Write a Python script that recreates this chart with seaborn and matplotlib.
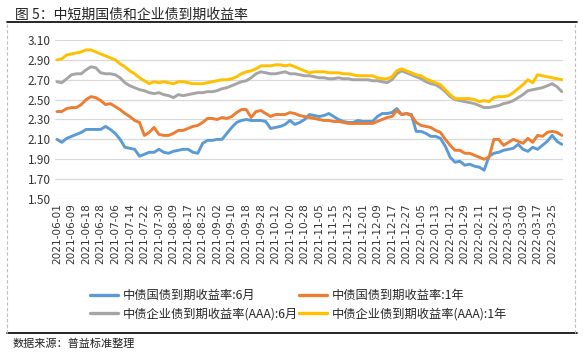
"""Recreate: 中短期国债和企业债到期收益率 line chart."""

import matplotlib

matplotlib.use("Agg")
import matplotlib.pyplot as plt
import numpy as np
import pandas as pd
import seaborn as sns
from matplotlib.lines import Line2D

# Chinese interbank trading calendar, 2021-06-01 .. 2022-03-31
START, END = "2021-06-01", "2022-03-31"
HOLIDAYS = [
    "2021-06-14", "2021-09-20", "2021-09-21",
    "2021-10-01", "2021-10-04", "2021-10-05", "2021-10-06", "2021-10-07",
    "2022-01-03", "2022-01-31", "2022-02-01", "2022-02-02", "2022-02-03", "2022-02-04",
]
MAKEUP_DAYS = ["2021-09-18", "2021-09-26", "2021-10-09", "2022-01-29", "2022-01-30"]
SAMPLE_STEP = 2  # values read every second trading day
TICK_EVERY = 3   # one label per 6 trading days

SERIES = [
    "中债国债到期收益率:6月",
    "中债国债到期收益率:1年",
    "中债企业债到期收益率(AAA):6月",
    "中债企业债到期收益率(AAA):1年",
]

GOV_6M = [
    2.10, 2.07, 2.11, 2.13, 2.15, 2.17, 2.20, 2.20, 2.20, 2.20, 2.23, 2.20, 2.16, 2.10, 2.02, 2.01,
    2.00, 1.93, 1.95, 1.97, 1.97, 2.00,
    1.97, 1.96, 1.98, 1.99, 2.00, 2.00, 1.97, 1.96, 2.06, 2.09, 2.09, 2.10, 2.10, 2.16, 2.22, 2.27,
    2.29, 2.30, 2.29, 2.29,
    2.29, 2.28, 2.21, 2.22, 2.23, 2.25, 2.29, 2.25, 2.27, 2.30, 2.35, 2.34, 2.33, 2.34, 2.36, 2.33,
    2.30, 2.28, 2.27, 2.27, 2.29,
    2.28, 2.28, 2.28, 2.33, 2.36, 2.36, 2.37, 2.41, 2.35, 2.36, 2.35, 2.18, 2.18, 2.16, 2.13, 2.13,
    2.11, 2.03, 1.92, 1.87,
    1.88, 1.84, 1.85, 1.83, 1.82, 1.79, 1.93, 1.96, 1.97, 1.99, 2.00, 2.01, 2.05, 2.00, 1.98,
    2.02, 2.00, 2.04, 2.08, 2.14, 2.08, 2.05,
]
GOV_1Y = [
    2.38, 2.38, 2.41, 2.42, 2.42, 2.45, 2.50, 2.53, 2.52, 2.49, 2.45, 2.46, 2.43, 2.40, 2.36, 2.33,
    2.29, 2.27, 2.14, 2.17, 2.22, 2.15,
    2.14, 2.14, 2.16, 2.19, 2.19, 2.21, 2.23, 2.24, 2.27, 2.31, 2.31, 2.30, 2.32, 2.31, 2.33, 2.37,
    2.40, 2.40, 2.32, 2.38,
    2.39, 2.36, 2.33, 2.35, 2.35, 2.35, 2.37, 2.36, 2.34, 2.33, 2.32, 2.31, 2.30, 2.29, 2.29, 2.28,
    2.28, 2.27, 2.26, 2.26, 2.26,
    2.26, 2.26, 2.26, 2.28, 2.30, 2.32, 2.33, 2.39, 2.35, 2.36, 2.34, 2.27, 2.24, 2.23, 2.22, 2.19,
    2.17, 2.10, 2.04, 1.99,
    1.99, 1.96, 1.96, 1.94, 1.92, 1.90, 1.92, 2.10, 2.10, 2.04, 2.07, 2.10, 2.08, 2.06, 2.11, 2.07,
    2.14, 2.13, 2.17, 2.18, 2.17, 2.14,
]
AAA_6M = [
    2.68, 2.67, 2.71, 2.75, 2.76, 2.76, 2.80, 2.83, 2.82, 2.77, 2.76, 2.76, 2.75, 2.72, 2.67, 2.64,
    2.62, 2.60, 2.59, 2.57, 2.56, 2.57,
    2.55, 2.54, 2.52, 2.55, 2.54, 2.55, 2.56, 2.57, 2.57, 2.58, 2.58, 2.59, 2.61, 2.62, 2.64, 2.66,
    2.68, 2.69, 2.72, 2.76,
    2.78, 2.77, 2.76, 2.76, 2.77, 2.78, 2.76, 2.76, 2.75, 2.74, 2.74, 2.73, 2.72, 2.72, 2.71, 2.71,
    2.72, 2.71, 2.71, 2.70, 2.70,
    2.70, 2.70, 2.69, 2.69, 2.68, 2.67, 2.70, 2.76, 2.79, 2.77, 2.75, 2.73, 2.71, 2.68, 2.66, 2.65,
    2.62, 2.58, 2.53, 2.50,
    2.49, 2.48, 2.47, 2.46, 2.44, 2.42, 2.42, 2.43, 2.44, 2.46, 2.47, 2.49, 2.52, 2.55, 2.59, 2.60,
    2.61, 2.62, 2.64, 2.66, 2.63, 2.58,
]
AAA_1Y = [
    2.90, 2.91, 2.95, 2.96, 2.97, 2.98, 3.00, 3.00, 2.98, 2.96, 2.94, 2.92, 2.90, 2.86, 2.83, 2.79,
    2.76, 2.72, 2.69, 2.66, 2.68, 2.67,
    2.68, 2.67, 2.66, 2.68, 2.68, 2.67, 2.66, 2.66, 2.66, 2.67, 2.68, 2.69, 2.70, 2.70, 2.71, 2.73,
    2.76, 2.78, 2.79, 2.81,
    2.84, 2.84, 2.84, 2.85, 2.85, 2.84, 2.85, 2.83, 2.81, 2.79, 2.77, 2.78, 2.78, 2.78, 2.77, 2.77,
    2.77, 2.76, 2.76, 2.75, 2.74,
    2.74, 2.74, 2.74, 2.72, 2.71, 2.71, 2.73, 2.79, 2.81, 2.79, 2.77, 2.75, 2.74, 2.71, 2.69, 2.67,
    2.65, 2.60, 2.55, 2.51,
    2.51, 2.51, 2.51, 2.50, 2.48, 2.49, 2.48, 2.52, 2.53, 2.53, 2.54, 2.57, 2.61, 2.65, 2.70, 2.67,
    2.75, 2.74, 2.73, 2.72, 2.71, 2.70,
]

COLORS = ["#5B9BD5", "#ED7D31", "#A5A5A5", "#FFC000"]
Y_TICKS = [1.50, 1.70, 1.90, 2.10, 2.30, 2.50, 2.70, 2.90, 3.10]

TITLE = "图 5：中短期国债和企业债到期收益率"
SOURCE = "数据来源：普益标准整理"


def trading_days() -> list[str]:
    days = pd.bdate_range(START, END)
    days = days.drop(pd.to_datetime(HOLIDAYS))
    days = days.union(pd.to_datetime(MAKEUP_DAYS)).sort_values()
    return [d.strftime("%Y-%m-%d") for d in days]


def main() -> None:
    sns.set_theme(style="white")
    plt.rcParams["font.family"] = ["Noto Sans CJK SC", "DejaVu Sans"]

    dates = trading_days()[::SAMPLE_STEP]
    frames = []
    for name, values in zip(SERIES, [GOV_6M, GOV_1Y, AAA_6M, AAA_1Y], strict=True):
        frames.append(pd.DataFrame({"pos": np.arange(len(values)), "value": values, "series": name}))
    df = pd.concat(frames, ignore_index=True)

    fig = plt.figure(figsize=(5.83, 3.53), dpi=100)
    ax = fig.add_axes([0.0943, 0.4363, 0.8714, 0.4504])
    sns.lineplot(
        data=df, x="pos", y="value", hue="series", hue_order=SERIES,
        palette=COLORS, linewidth=2.1, ax=ax, legend=False,
    )

    ax.set_ylim(Y_TICKS[0], Y_TICKS[-1])
    ax.set_yticks(Y_TICKS)
    ax.set_yticklabels([f"{v:.2f}" for v in Y_TICKS], fontsize=8.5, color="#333333")
    ax.set_xlim(-0.41, len(dates) - 0.76)
    tick_pos = np.arange(0, len(dates), TICK_EVERY)
    ax.set_xticks(tick_pos)
    ax.set_xticklabels([dates[p] for p in tick_pos], rotation=90, fontsize=7.6,
                       color="#333333", family="DejaVu Sans")
    ax.tick_params(axis="both", length=0, pad=3)
    ax.yaxis.grid(True, color="#D9D9D9", linewidth=0.9)
    ax.set_axisbelow(True)
    for spine in ax.spines.values():
        spine.set_visible(False)
    ax.set_xlabel("")
    ax.set_ylabel("")

    # legend (2 columns, filled column-wise)
    order = [0, 2, 1, 3]
    handles = [Line2D([], [], color=COLORS[k], linewidth=2.4) for k in order]
    labels = [SERIES[k] for k in order]
    fig.legend(
        handles, labels, ncol=2, loc="center", bbox_to_anchor=(0.512, 0.137),
        frameon=False, fontsize=8.8, handlelength=2.3, handletextpad=0.35,
        columnspacing=0.1, labelspacing=0.45,
    )

    # title, rules, border, source
    fig.text(0.026, 0.958, TITLE, fontsize=10, color="#222222", va="center", ha="left")
    fig.add_artist(Line2D([0.012, 0.99], [0.937, 0.937], color="black", linewidth=1.2))
    fig.add_artist(Line2D([0.012, 0.99], [0.057, 0.057], color="black", linewidth=1.2))
    for xb in (0.0112, 0.986):
        fig.add_artist(Line2D([xb, xb], [0.057, 0.937], color="#BFBFBF",
                              linewidth=0.8, linestyle=(0, (3, 2))))
    fig.text(0.022, 0.026, SOURCE, fontsize=8, color="#222222", va="center", ha="left")

    fig.savefig("out.png", dpi=100)
    plt.close(fig)


if __name__ == "__main__":
    main()
